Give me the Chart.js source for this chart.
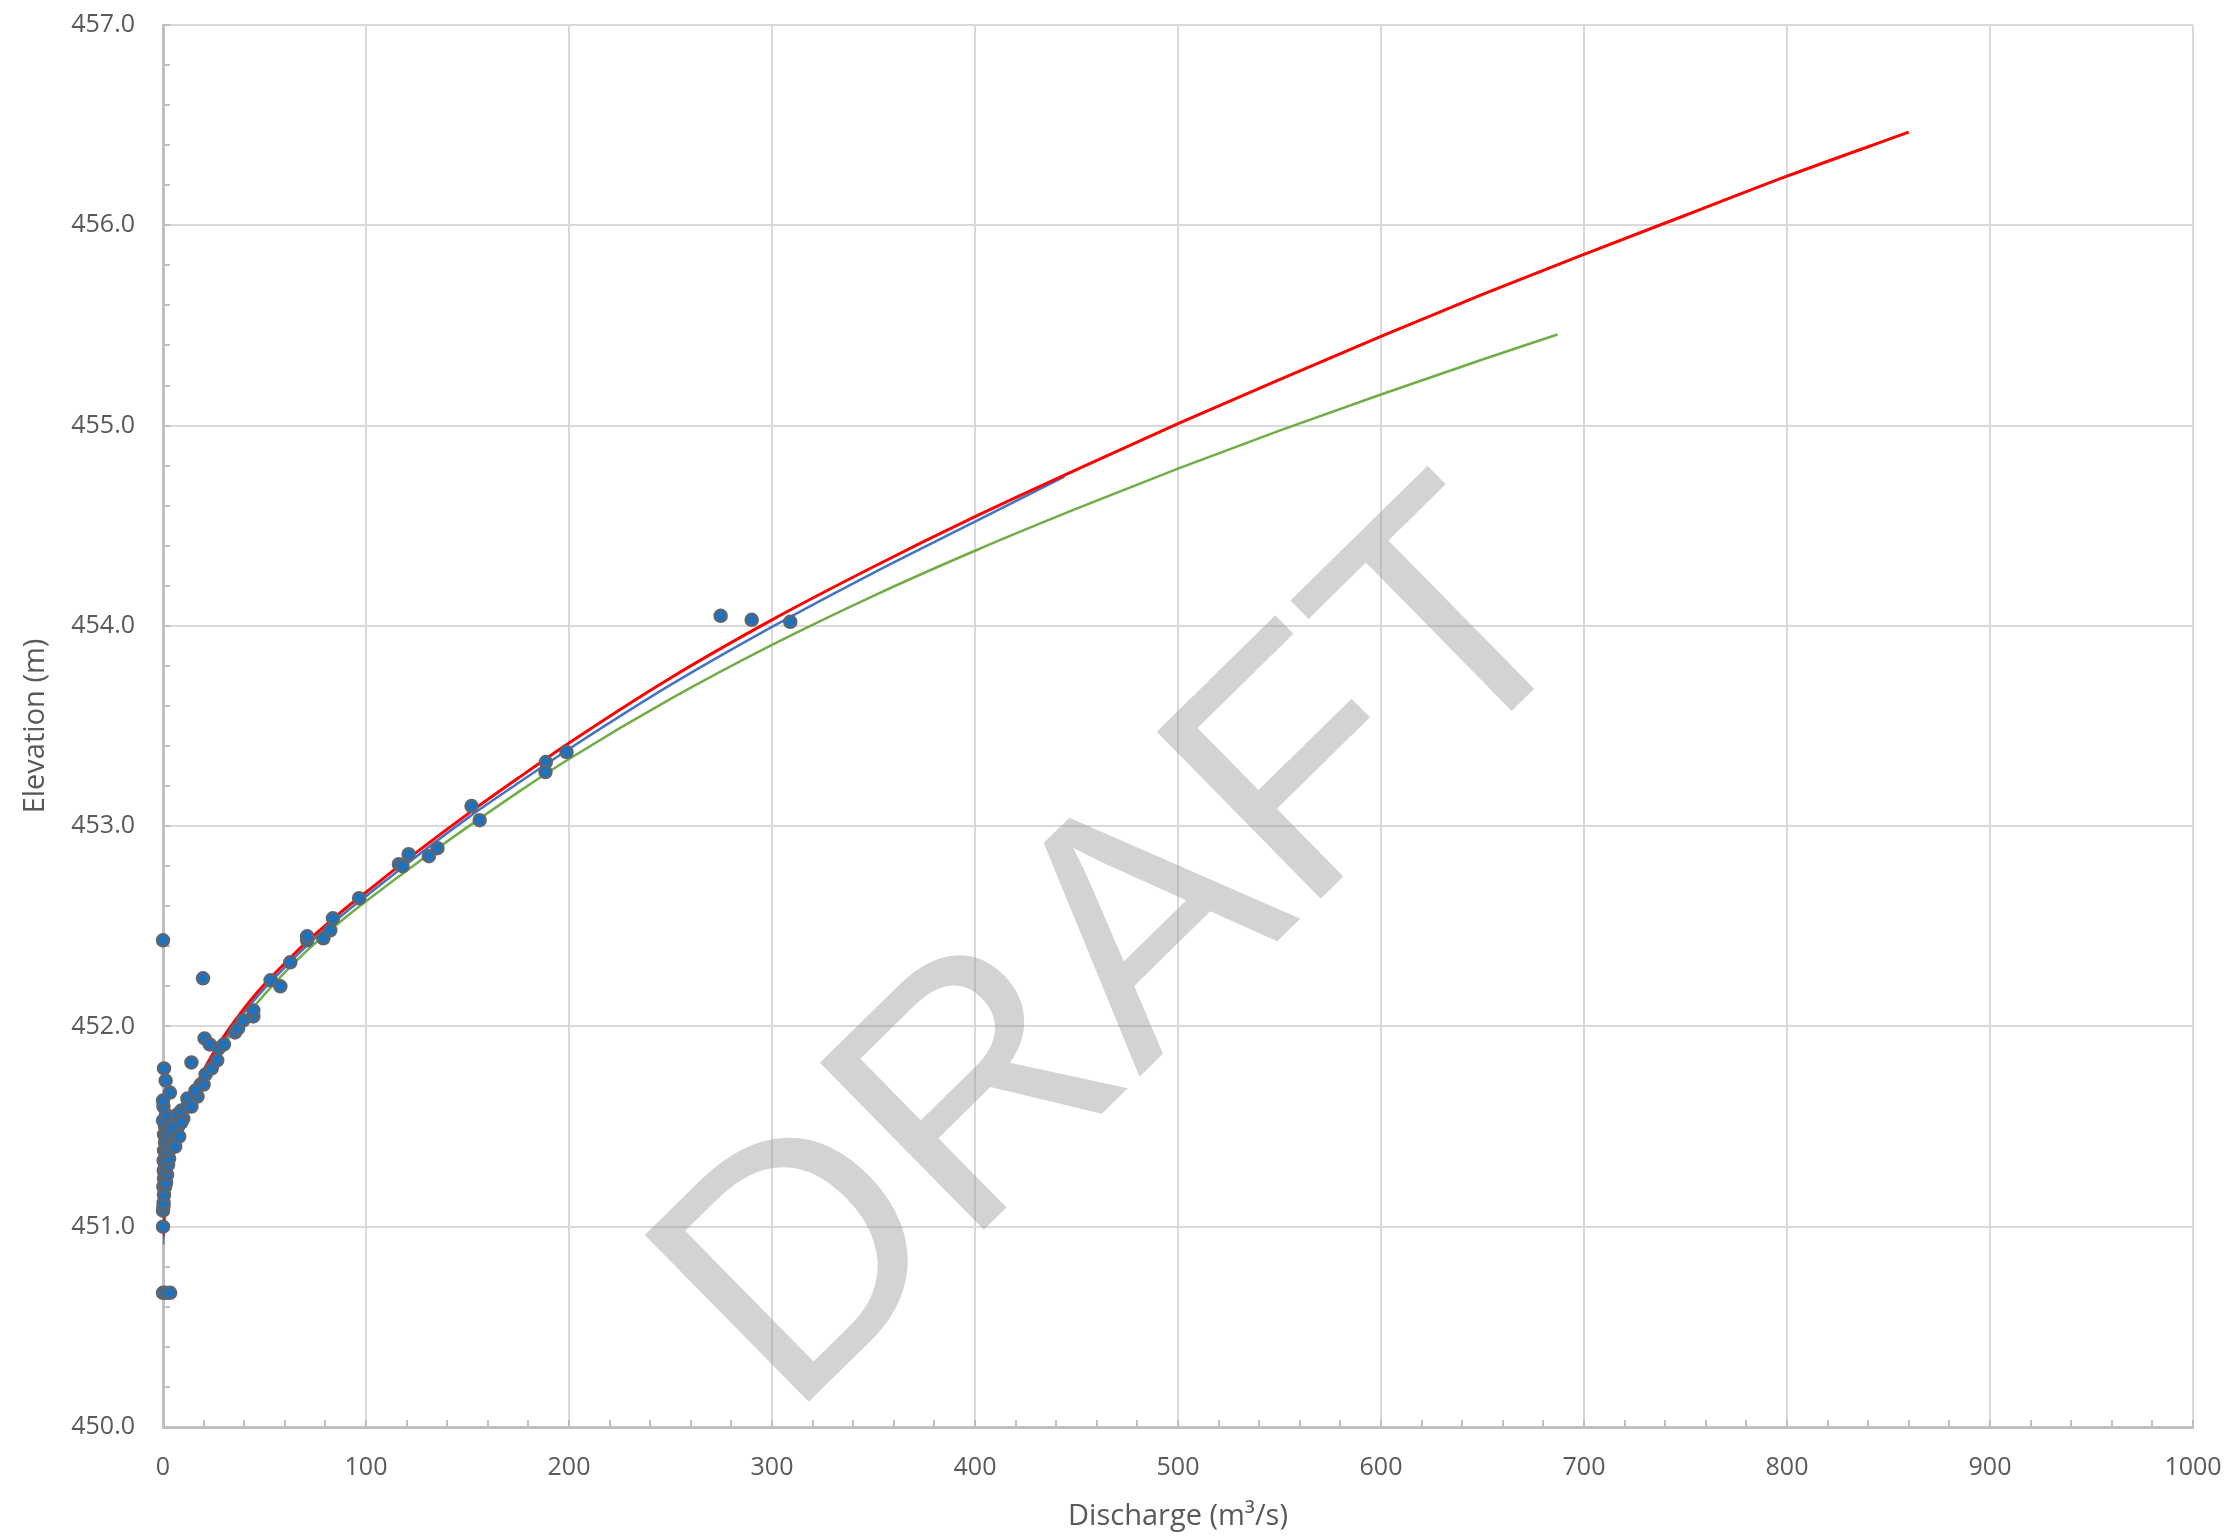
<!DOCTYPE html>
<html>
<head>
<meta charset="utf-8">
<script src="https://cdn.jsdelivr.net/npm/chart.js"></script>
<style>
  html, body { margin: 0; padding: 0; background: #fff; }
</style>
</head>
<body>
<canvas id="rating" width="2239" height="1537"></canvas>
<script>
// gauged discharge / stage pairs
const obsQ = [0, 0, 0.2, 0.3, 0.5, 0.2, 1, 0.5, 1.5, 2, 0.4, 1, 2.5, 0.3, 1.5, 3, 0.5, 2, 3.8, 1, 3, 4.5, 0.5, 2, 5.4, 1, 3, 6.5, 0, 4, 7.5, 1.5, 7, 10, 0.2, 9, 0, 12, 3.4, 12, 17, 1.3, 0.5, 14, 18.5, 20, 21, 24, 26.7, 20.5, 23, 27.5, 30, 35.5, 37, 39.5, 44.5, 44.5, 0, 19.7, 53, 57.8, 62.7, 71, 71, 79, 82.4, 83.7, 96.6, 116.2, 118, 121, 131, 135.2, 152, 156, 188.6, 188.4, 198.8, 274.7, 290, 309, 0, 1.3, 3.5, 6, 8, 5, 14, 16, 9];
const obsH = [451.00, 451.08, 451.10, 451.12, 451.16, 451.20, 451.20, 451.24, 451.22, 451.26, 451.28, 451.30, 451.31, 451.33, 451.35, 451.34, 451.38, 451.38, 451.39, 451.42, 451.42, 451.43, 451.46, 451.46, 451.46, 451.50, 451.48, 451.48, 451.53, 451.52, 451.50, 451.56, 451.56, 451.54, 451.60, 451.58, 451.63, 451.60, 451.67, 451.64, 451.65, 451.73, 451.79, 451.82, 451.71, 451.71, 451.76, 451.79, 451.83, 451.94, 451.91, 451.89, 451.91, 451.97, 451.99, 452.03, 452.05, 452.08, 452.43, 452.24, 452.23, 452.20, 452.32, 452.43, 452.45, 452.44, 452.48, 452.54, 452.64, 452.81, 452.80, 452.86, 452.85, 452.89, 453.10, 453.03, 453.32, 453.27, 453.37, 454.05, 454.03, 454.02, 450.67, 450.67, 450.67, 451.40, 451.45, 451.50, 451.60, 451.68, 451.52];

// rating curves
const redQ = [0, 1, 2, 5, 10, 15, 20, 30, 40, 50, 60, 70, 80, 90, 100, 125, 150, 175, 200, 250, 300, 350, 400, 450, 500, 550, 600, 650, 700, 750, 800, 860];
const redH = [450.95, 451.12, 451.20, 451.37, 451.54, 451.67, 451.78, 451.95, 452.09, 452.21, 452.315, 452.415, 452.505, 452.59, 452.67, 452.87, 453.06, 453.24, 453.415, 453.74, 454.03, 454.295, 454.545, 454.78, 455.01, 455.23, 455.445, 455.655, 455.855, 456.05, 456.245, 456.465];
const blueQ = [0, 1, 2, 5, 10, 15, 20, 30, 40, 50, 60, 70, 80, 90, 100, 125, 150, 175, 200, 250, 300, 350, 400, 444];
const blueH = [450.91, 451.09, 451.17, 451.35, 451.52, 451.65, 451.76, 451.93, 452.07, 452.19, 452.295, 452.395, 452.485, 452.57, 452.65, 452.85, 453.04, 453.215, 453.385, 453.705, 453.995, 454.265, 454.52, 454.745];
const greenQ = [0, 1, 2, 5, 10, 15, 20, 30, 40, 50, 60, 70, 80, 90, 100, 125, 150, 175, 200, 250, 300, 350, 400, 450, 500, 550, 600, 650, 687];
const greenH = [451.00, 451.13, 451.20, 451.36, 451.52, 451.64, 451.75, 451.91, 452.04, 452.16, 452.27, 452.37, 452.46, 452.545, 452.625, 452.815, 452.995, 453.17, 453.335, 453.635, 453.905, 454.15, 454.375, 454.585, 454.785, 454.975, 455.155, 455.33, 455.455];

const xTicks = [0, 100, 200, 300, 400, 500, 600, 700, 800, 900, 1000];
const yTicks = [450, 451, 452, 453, 454, 455, 456, 457];

const pts = (qs, hs) => qs.map((q, i) => ({ x: q, y: hs[i] }));
const FONT = "'Open Sans', sans-serif";
const GREY = '#595959';

// small inside tick marks like the spreadsheet axes
const minorTicks = {
  id: 'minorTicks',
  beforeDatasetsDraw(chart) {
    const { ctx, scales: { x, y } } = chart;
    ctx.save();
    ctx.strokeStyle = '#bfbfbf';
    ctx.lineWidth = 2;
    ctx.beginPath();
    for (let v = 0; v <= 1000; v += 20) {
      const px = Math.round(x.getPixelForValue(v));
      ctx.moveTo(px, y.bottom);
      ctx.lineTo(px, y.bottom - 7);
    }
    for (let i = 0; i <= 35; i++) {
      const py = Math.round(y.getPixelForValue(450 + i * 0.2));
      ctx.moveTo(x.left, py);
      ctx.lineTo(x.left + 7, py);
    }
    ctx.stroke();
    ctx.restore();
  }
};

const watermark = {
  id: 'watermark',
  afterDatasetsDraw(chart) {
    const { ctx, chartArea: a } = chart;
    ctx.save();
    ctx.translate(a.left + a.width * 0.475, a.top + a.height * 0.665);
    ctx.rotate(-44.5 * Math.PI / 180);
    ctx.font = "340px 'Liberation Sans', Arial, sans-serif";
    ctx.fillStyle = 'rgba(150,150,150,0.42)';
    ctx.textAlign = 'center';
    ctx.textBaseline = 'middle';
    ctx.fillText('DRAFT', 0, 0);
    ctx.restore();
  }
};

new Chart(document.getElementById('rating'), {
  type: 'scatter',
  data: {
    datasets: [
      { label: 'Gaugings', data: pts(obsQ, obsH), showLine: false, clip: false,
        pointRadius: 6, pointBorderWidth: 2.5, pointBackgroundColor: '#1c72be', pointBorderColor: '#5d6670' },
      { label: 'Red', data: pts(redQ, redH), showLine: true, borderColor: '#ff0000', borderWidth: 3,
        pointRadius: 0, cubicInterpolationMode: 'monotone' },
      { label: 'Blue', data: pts(blueQ, blueH), showLine: true, borderColor: '#4472c4', borderWidth: 2.5,
        pointRadius: 0, cubicInterpolationMode: 'monotone' },
      { label: 'Green', data: pts(greenQ, greenH), showLine: true, borderColor: '#70ad47', borderWidth: 2.5,
        pointRadius: 0, cubicInterpolationMode: 'monotone' }
    ]
  },
  options: {
    responsive: false,
    animation: false,
    devicePixelRatio: 1,
    layout: { padding: { top: 25, right: 46, bottom: 0, left: 0 } },
    plugins: { legend: { display: false }, tooltip: { enabled: false } },
    scales: {
      x: {
        type: 'linear', min: 0, max: 1000,
        afterBuildTicks: s => { s.ticks = xTicks.map(v => ({ value: v })); },
        afterFit: s => { s.height = 110; s.paddingLeft = 0; s.paddingRight = 0; },
        ticks: { color: GREY, font: { family: FONT, size: 25 }, padding: 26, maxRotation: 0,
          callback: v => String(v) },
        grid: { color: '#d9d9d9', lineWidth: 2, drawTicks: false },
        border: { color: '#bfbfbf', width: 3 },
        title: { display: true, text: 'Discharge (m³/s)', color: GREY,
          font: { family: FONT, size: 29 }, padding: { top: 0, bottom: 3 } }
      },
      y: {
        type: 'linear', min: 450, max: 457,
        afterBuildTicks: s => { s.ticks = yTicks.map(v => ({ value: v })); },
        afterFit: s => { s.width = 163; s.paddingTop = 0; s.paddingBottom = 0; },
        ticks: { color: GREY, font: { family: FONT, size: 25 }, padding: 28,
          callback: v => v.toFixed(1) },
        grid: { color: '#d9d9d9', lineWidth: 2, drawTicks: false },
        border: { color: '#bfbfbf', width: 3 },
        title: { display: true, text: 'Elevation (m)', color: GREY,
          font: { family: FONT, size: 29 }, padding: { top: 18, bottom: 0 } }
      }
    }
  },
  plugins: [minorTicks, watermark]
});
</script>
</body>
</html>
